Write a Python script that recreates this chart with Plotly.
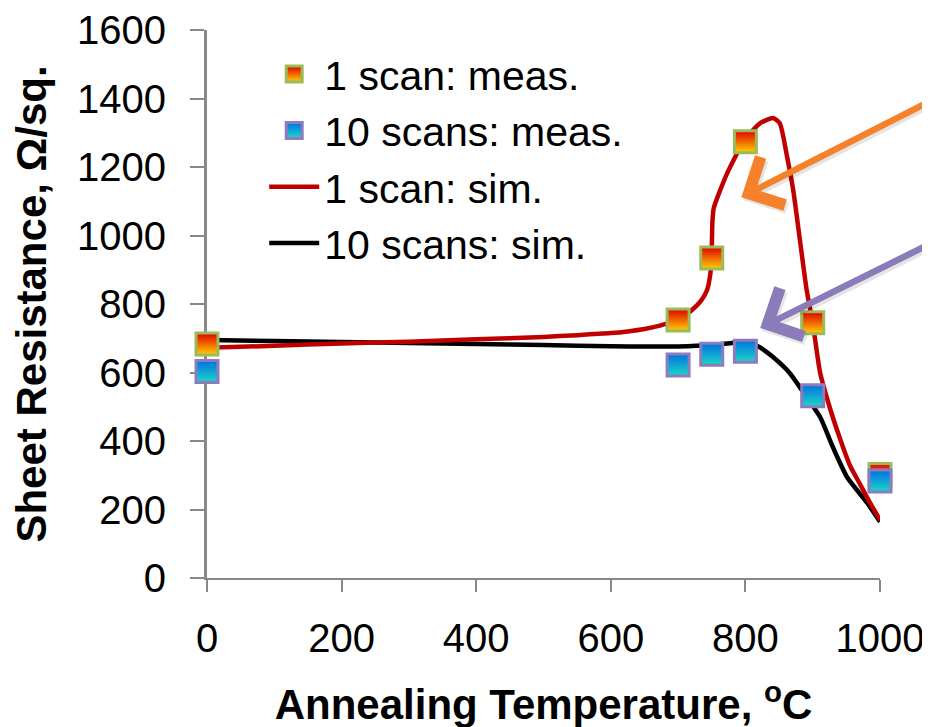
import plotly.graph_objects as go

# measured data
temp_meas = [0, 700, 750, 800, 900, 1000]
rs_1scan_meas = [683, 753, 934, 1274, 745, 302]
rs_10scan_meas = [603, 622, 653, 662, 532, 283]

# simulated curves
temp_sim_1 = [0, 100, 200, 300, 400, 500, 550, 600, 625, 650, 673, 700, 718, 735, 743, 748, 750, 751, 753,
              773, 799, 822, 841, 851, 862, 871, 881, 891, 900, 911, 925, 940, 955, 970, 985, 1000]
rs_sim_1 = [672, 678, 685, 690, 697, 704, 709, 715, 720, 727, 737, 753, 778, 812, 841, 890, 960, 1040, 1080,
            1182, 1279, 1328, 1343, 1328, 1229, 1133, 987, 841, 745, 600, 500, 410, 330, 275, 220, 170]

temp_sim_10 = [0, 100, 200, 300, 400, 500, 600, 700, 750, 780, 800, 820, 841, 866, 891, 911, 930, 951, 981, 1000]
rs_sim_10 = [695, 692, 689, 686, 683, 680, 677, 676, 680, 686, 690, 675, 645, 598, 528, 470, 382, 295, 219, 164]

x_ticks = [0, 200, 400, 600, 800, 1000]
y_ticks = [0, 200, 400, 600, 800, 1000, 1200, 1400, 1600]

FONT = "Liberation Sans, Arial, sans-serif"

fig = go.Figure()

fig.add_trace(go.Scatter(
    x=temp_sim_10, y=rs_sim_10, mode="lines", name="10 scans: sim.",
    line=dict(color="#000000", width=4.5, shape="spline", smoothing=0.6),
    legendrank=4, cliponaxis=False))
fig.add_trace(go.Scatter(
    x=temp_sim_1, y=rs_sim_1, mode="lines", name="1 scan: sim.",
    line=dict(color="#C00000", width=4.5, shape="spline", smoothing=0.6),
    legendrank=3, cliponaxis=False))
fig.add_trace(go.Scatter(
    x=temp_meas, y=rs_1scan_meas, mode="markers", name="1 scan: meas.",
    marker=dict(symbol="square", size=22, color="#E00000",
                gradient=dict(type="vertical", color="#FFD200"),
                line=dict(color="#9BBB59", width=3)),
    legendrank=1, cliponaxis=False))
fig.add_trace(go.Scatter(
    x=temp_meas, y=rs_10scan_meas, mode="markers", name="10 scans: meas.",
    marker=dict(symbol="square", size=22, color="#0070E0",
                gradient=dict(type="vertical", color="#1ED8C8"),
                line=dict(color="#8C7CBE", width=3)),
    legendrank=2, cliponaxis=False))

# arrows (shadow then arrow)
arrows = [
    dict(x=794, y=1112, ax=202, ay=-100, color="#F5822A"),
    dict(x=822, y=730, ax=183, ay=-88, color="#8B7BB8"),
]
for a in arrows:
    fig.add_annotation(x=a["x"], y=a["y"], xref="x", yref="y", text="", showarrow=True,
                       ax=a["ax"], ay=a["ay"], axref="pixel", ayref="pixel",
                       arrowhead=4, arrowsize=1.6, arrowwidth=6.5,
                       arrowcolor="rgba(0,0,0,0.10)", xshift=2, yshift=-3)
    fig.add_annotation(x=a["x"], y=a["y"], xref="x", yref="y", text="", showarrow=True,
                       ax=a["ax"], ay=a["ay"], axref="pixel", ayref="pixel",
                       arrowhead=4, arrowsize=1.6, arrowwidth=6.5,
                       arrowcolor=a["color"])

# the page body adds an 8px offset, so margins are reduced by 8 on top/left
fig.update_layout(
    width=930, height=727,
    margin=dict(l=199, r=58, t=22, b=157),
    paper_bgcolor="white", plot_bgcolor="white",
    font=dict(family=FONT, size=40, color="black"),
    showlegend=True,
    legend=dict(x=0.085, y=0.98, xanchor="left", yanchor="top",
                bgcolor="rgba(0,0,0,0)", font=dict(size=41, color="black"),
                itemwidth=50, tracegroupgap=0),
    xaxis=dict(range=[0, 1000], tickvals=x_ticks, ticks="outside", ticklen=12,
               tickwidth=2, tickcolor="#888888", showline=True, linecolor="#888888",
               linewidth=2, showgrid=False, zeroline=False, automargin=False,
               tickfont=dict(size=40), ticklabelstandoff=12,
               title=dict(text="<b>Annealing Temperature, <sup>o</sup>C</b>",
                          font=dict(size=42), standoff=31)),
    yaxis=dict(range=[0, 1600], tickvals=y_ticks, ticks="outside", ticklen=14,
               tickwidth=2, tickcolor="#888888", showline=True, linecolor="#888888",
               linewidth=3, showgrid=False, zeroline=False, layer="below traces",
               automargin=False,
               tickfont=dict(size=40), ticklabelstandoff=16,
               title=dict(text="<b>Sheet Resistance, Ω/sq.</b>",
                          font=dict(size=42), standoff=18)),
)

fig.write_html("out.html")
